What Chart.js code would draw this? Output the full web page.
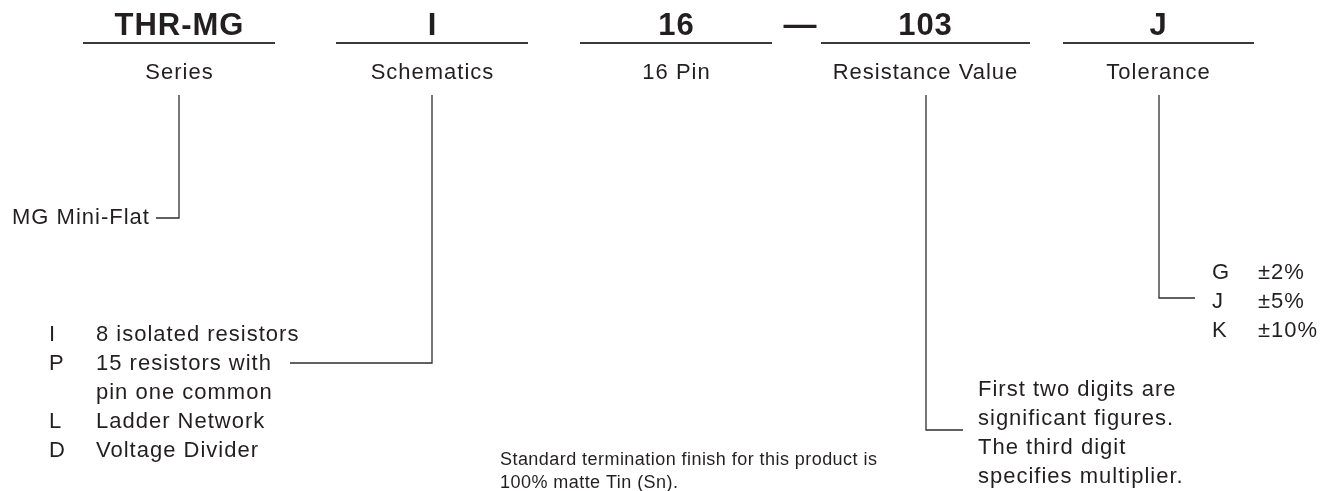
<!DOCTYPE html>
<html>
<head>
<meta charset="utf-8">
<script src="https://cdn.jsdelivr.net/npm/chart.js@4/dist/chart.umd.min.js"></script>
<style>
  html, body { margin: 0; padding: 0; background: #fff; }
  #wrap { width: 1335px; height: 491px; }
</style>
</head>
<body>
<div id="wrap"><canvas id="chart" width="1335" height="491"></canvas></div>
<script>
// part number fields
const codeParts = ['THR-MG', 'I', '16', '103', 'J']
const fieldNames = ['Series', 'Schematics', '16 Pin', 'Resistance Value', 'Tolerance']
const separator = '—'

// option texts
const seriesOptions = ['MG Mini-Flat']
const schematicCodes = ['I', 'P', '', 'L', 'D']
const schematicText = ['8 isolated resistors', '15 resistors with', 'pin one common', 'Ladder Network', 'Voltage Divider']
const resistanceNotes = ['First two digits are', 'significant figures.', 'The third digit', 'specifies multiplier.']
const toleranceCodes = ['G', 'J', 'K']
const toleranceValues = ['±2%', '±5%', '±10%']
const footnote = ['Standard termination finish for this product is', '100% matte Tin (Sn).']

// layout (canvas px, y going down)
const W = 1335, H = 491
const fieldX = [179, 432, 676, 925, 1158]
const underlineFrom = [83, 336, 580, 821, 1063]
const underlineTo = [275, 528, 772, 1030, 1254]
const underlineY = 43
const connectorTop = 95
const connectors = [
    [[179, connectorTop], [179, 218], [156, 218]],
    [[432, connectorTop], [432, 363], [290, 363]],
    [[926, connectorTop], [926, 430], [963, 430]],
    [[1159, connectorTop], [1159, 298], [1195, 298]]
]
const TEXT = '#231f20'
const FONT = '"Liberation Sans", Arial, Helvetica, sans-serif'

function pts(list) {
    return list.map(p => ({ x: p[0], y: p[1] }))
}

var datasets = []
codeParts.forEach((c, i) => {
    datasets.push({
        data: pts([[underlineFrom[i], underlineY], [underlineTo[i], underlineY]]),
        borderColor: '#3a3a3a', borderWidth: 1.8
    })
})
connectors.forEach(c => {
    datasets.push({ data: pts(c), borderColor: '#2e2e2e', borderWidth: 1.3 })
})
datasets.forEach(d => {
    d.showLine = true
    d.pointRadius = 0
    d.fill = false
    d.tension = 0
})

const textPlugin = {
    id: 'partText',
    afterDraw(chart) {
        const ctx = chart.ctx
        const xs = chart.scales.x, ys = chart.scales.y
        function put(str, x, y, size, weight, align, spacing) {
            ctx.font = (weight || 'normal') + ' ' + size + 'px ' + FONT
            ctx.textAlign = align || 'left'
            ctx.letterSpacing = (spacing == null ? 1 : spacing) + 'px'
            ctx.fillText(str, xs.getPixelForValue(x), ys.getPixelForValue(y))
        }
        ctx.save()
        ctx.fillStyle = TEXT
        ctx.textBaseline = 'middle'

        codeParts.forEach((c, i) => put(c, fieldX[i] + 0.5, 26, 31, 'bold', 'center'))
        put(separator, 800, 26, 33, 'bold', 'center', 0)
        fieldNames.forEach((f, i) => put(f, fieldX[i] + 0.5, 73, 22, 'normal', 'center'))

        put(seriesOptions[0], 12, 218, 22, 'normal', 'left')

        schematicCodes.forEach((c, i) => put(c, 49, 335 + i * 29, 22))
        schematicText.forEach((t, i) => put(t, 96, 335 + i * 29, 22))

        toleranceCodes.forEach((c, i) => put(c, 1212, 273 + i * 29, 22))
        toleranceValues.forEach((t, i) => put(t, 1258, 273 + i * 29, 22))

        resistanceNotes.forEach((t, i) => put(t, 978, 390 + i * 29, 22))

        footnote.forEach((t, i) => put(t, 500, 460 + i * 23, 18, 'normal', 'left', 0.45))
        ctx.restore()
    }
}

function main() {
    var ctx = document.getElementById('chart').getContext('2d')
    new Chart(ctx, {
        type: 'scatter',
        data: { datasets: datasets },
        options: {
            responsive: false,
            animation: false,
            layout: { padding: 0 },
            plugins: { legend: { display: false }, tooltip: { enabled: false } },
            scales: {
                x: { type: 'linear', min: 0, max: W, display: false },
                y: { type: 'linear', min: 0, max: H, reverse: true, display: false }
            }
        },
        plugins: [textPlugin]
    })
}

window.onload = main
</script>
</body>
</html>
